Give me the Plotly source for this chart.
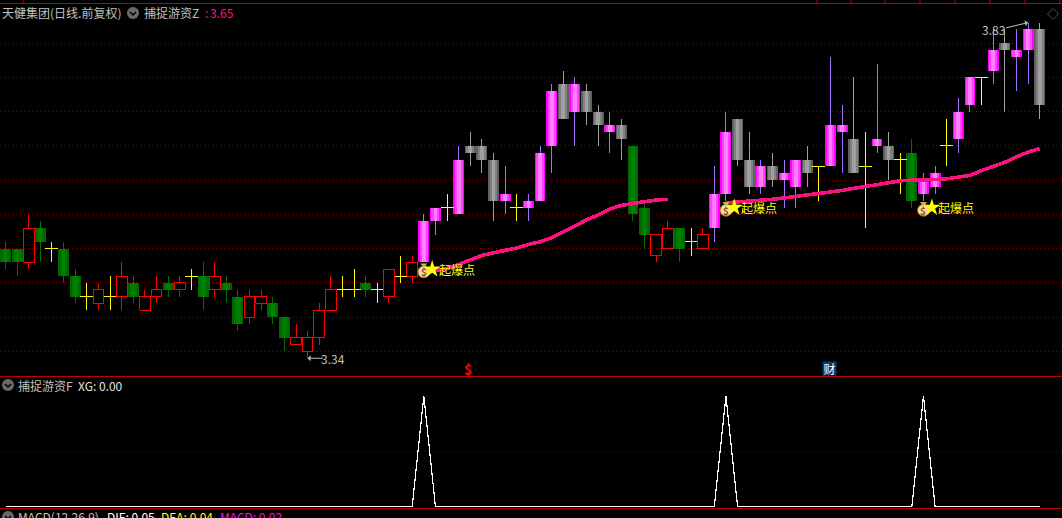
import plotly.graph_objects as go

W, H = 1062, 518

# ---------- data ----------
opens = [3.50,3.50,3.48,3.53,3.50,3.50,3.46,3.43,3.42,3.43,3.43,3.45,3.41,3.43,3.45,3.44,3.46,3.46,3.44,3.45,
         3.43,3.40,3.42,3.42,3.40,3.36,3.35,3.37,3.41,3.44,3.44,3.45,3.44,3.43,3.46,3.46,3.48,3.54,3.56,3.55,
         3.65,3.65,3.63,3.57,3.56,3.56,3.57,3.65,3.74,3.70,3.73,3.70,3.67,3.68,3.65,3.56,3.49,3.50,3.53,3.51,
         3.50,3.53,3.58,3.69,3.63,3.59,3.62,3.60,3.59,3.63,3.62,3.62,3.67,3.66,3.62,3.65,3.65,3.63,3.64,3.58,
         3.59,3.65,3.66,3.71,3.75,3.76,3.80,3.78,3.79,3.82]
closes = [3.48,3.48,3.53,3.51,3.50,3.46,3.43,3.43,3.44,3.43,3.46,3.43,3.43,3.44,3.44,3.45,3.46,3.43,3.46,3.44,
          3.39,3.43,3.43,3.40,3.37,3.37,3.37,3.41,3.44,3.44,3.44,3.44,3.44,3.47,3.46,3.48,3.54,3.56,3.56,3.63,
          3.64,3.63,3.57,3.58,3.56,3.57,3.64,3.73,3.69,3.74,3.70,3.68,3.68,3.66,3.55,3.52,3.52,3.53,3.50,3.51,
          3.52,3.58,3.67,3.63,3.59,3.62,3.60,3.61,3.63,3.61,3.62,3.68,3.68,3.61,3.62,3.66,3.63,3.63,3.57,3.60,
          3.61,3.65,3.70,3.75,3.75,3.79,3.79,3.79,3.82,3.71]
highs = [3.51,3.50,3.55,3.54,3.51,3.51,3.47,3.45,3.45,3.46,3.48,3.46,3.44,3.46,3.46,3.46,3.47,3.48,3.48,3.46,
         3.44,3.44,3.44,3.43,3.40,3.39,3.38,3.42,3.46,3.46,3.47,3.46,3.45,3.47,3.49,3.49,3.55,3.56,3.58,3.65,
         3.67,3.66,3.64,3.62,3.58,3.58,3.65,3.74,3.76,3.75,3.74,3.71,3.70,3.69,3.65,3.57,3.52,3.54,3.53,3.53,
         3.53,3.62,3.70,3.69,3.67,3.63,3.64,3.63,3.63,3.65,3.62,3.78,3.71,3.75,3.67,3.77,3.67,3.64,3.66,3.61,
         3.62,3.69,3.72,3.75,3.75,3.82,3.82,3.82,3.83,3.83]
lows = [3.47,3.46,3.47,3.48,3.48,3.45,3.42,3.41,3.41,3.41,3.41,3.42,3.41,3.42,3.43,3.43,3.44,3.41,3.43,3.42,
        3.38,3.39,3.41,3.39,3.35,3.36,3.34,3.36,3.41,3.43,3.43,3.43,3.42,3.42,3.45,3.45,3.48,3.52,3.54,3.55,
        3.62,3.61,3.54,3.55,3.54,3.54,3.57,3.61,3.69,3.65,3.68,3.65,3.64,3.63,3.54,3.50,3.48,3.50,3.48,3.49,
        3.50,3.51,3.57,3.62,3.58,3.58,3.59,3.56,3.56,3.59,3.57,3.62,3.61,3.61,3.53,3.64,3.60,3.58,3.56,3.57,
        3.58,3.62,3.64,3.70,3.71,3.74,3.70,3.73,3.74,3.69]
hot_candles = list(range(36, 54)) + list(range(61, 78)) + list(range(79, 90))

z_days_a = list(range(37, 58))
z_values_a = [3.468,3.471,3.477,3.483,3.490,3.494,3.497,3.501,3.506,3.510,3.516,3.524,3.533,3.542,3.549,3.558,
              3.563,3.566,3.569,3.571,3.572]
z_days_b = list(range(62, 90))
z_values_b = [3.567,3.568,3.569,3.571,3.572,3.574,3.576,3.578,3.580,3.583,3.585,3.588,3.591,3.594,3.597,3.599,
              3.600,3.600,3.601,3.602,3.604,3.607,3.614,3.620,3.626,3.634,3.641,3.646]
signal_days = [36, 62, 79]
signal_prices = [3.47, 3.56, 3.56]
signal_label = "起爆点"
xg_values = [1 if i in signal_days else 0 for i in range(90)]

price_ticks = [3.35,3.40,3.45,3.50,3.55,3.60,3.65,3.70,3.75,3.80]
xg_ticks = [0.5]
top_tick_px = [23, 817, 851, 885, 920, 955, 990, 1025, 1060]

# ---------- style ----------
RED, GRID = "#c00000", "#880000"
TXT = "#c0c0c0"
FONT = "Noto Sans CJK SC, Liberation Sans, sans-serif"
PINK = "#ff1080"

days = list(range(len(opens)))
hot = set(hot_candles)
doji = [i for i in days if opens[i] == closes[i]]
up_n = [i for i in days if closes[i] > opens[i] and i not in hot]
dn_n = [i for i in days if closes[i] < opens[i] and i not in hot]
up_h = [i for i in days if closes[i] > opens[i] and i in hot]
dn_h = [i for i in days if closes[i] < opens[i] and i in hot]


def line_trace(xs, ys, color, width=1.0):
    return go.Scatter(x=xs, y=ys, mode="lines", line=dict(color=color, width=width), hoverinfo="skip", showlegend=False)


def wick_trace(idx, color):
    xs, ys = [], []
    for i in idx:
        top, bot = max(opens[i], closes[i]), min(opens[i], closes[i])
        if highs[i] > top:
            xs += [i, i, None]
            ys += [top, highs[i], None]
        if lows[i] < bot:
            xs += [i, i, None]
            ys += [lows[i], bot, None]
    return line_trace(xs, ys, color)


def body(idx, color, width):
    return go.Bar(x=idx, y=[abs(closes[i] - opens[i]) for i in idx],
                  base=[min(closes[i], opens[i]) for i in idx], width=width,
                  marker=dict(color=color, line=dict(width=0)),
                  hoverinfo="skip", showlegend=False)


fig = go.Figure()
for col, w in (("#006400", 0.94), ("#007400", 0.62), ("#008000", 0.32)):
    fig.add_trace(body(dn_n, col, w))
for col, w in (("#ff00ff", 0.94), ("#ff40ff", 0.68), ("#ff80ff", 0.32)):
    fig.add_trace(body(up_h, col, w))
for col, w in (("#606060", 0.94), ("#808080", 0.68), ("#a0a0a0", 0.32)):
    fig.add_trace(body(dn_h, col, w))

fig.add_trace(wick_trace(up_n, "#ff0000"))
fig.add_trace(wick_trace(dn_n, "#007000"))
fig.add_trace(wick_trace(up_h, "#a070ff"))
fig.add_trace(wick_trace(dn_h, "#a0a0a0"))

# doji: full vertical plus horizontal stroke
xs, ys = [], []
for i in doji:
    xs += [i, i, None, i - 0.56, i + 0.56, None]
    ys += [lows[i], highs[i], None, closes[i], closes[i], None]
fig.add_trace(line_trace(xs, ys, "#ffff00"))

# hollow red bodies
xs, ys = [], []
for i in up_n:
    xs += [i - 0.46, i + 0.46, i + 0.46, i - 0.46, i - 0.46, None]
    ys += [opens[i], opens[i], closes[i], closes[i], opens[i], None]
fig.add_trace(line_trace(xs, ys, "#ff0000"))

for dx, dy in ((z_days_a, z_values_a), (z_days_b, z_values_b)):
    fig.add_trace(line_trace(dx, dy, PINK, 3.6))

# signal markers: bag, knot, star
fig.add_trace(go.Scatter(x=signal_days, y=[p - 0.004 for p in signal_prices], mode="markers",
                         marker=dict(symbol="circle", size=12, color="#f6dca0", line=dict(color="#8a5a20", width=1)),
                         hoverinfo="skip", showlegend=False))
fig.add_trace(go.Scatter(x=signal_days, y=[p + 0.006 for p in signal_prices], mode="markers",
                         marker=dict(symbol="triangle-down", size=6, color="#d8a860", line=dict(width=0)),
                         hoverinfo="skip", showlegend=False))
fig.add_trace(go.Scatter(x=[d + 0.72 for d in signal_days], y=signal_prices, mode="markers",
                         marker=dict(symbol="star", size=13, color="#ffff00", line=dict(width=0)),
                         hoverinfo="skip", showlegend=False))

# lower panel
fig.add_trace(go.Scatter(x=days, y=xg_values, yaxis="y2", mode="lines", line=dict(color="#ffffff", width=1.2),
                         hoverinfo="skip", showlegend=False))


def px(x):
    return x / W


def py(y):
    return 1 - y / H


def label(x, y, text, color=TXT, size=12):
    return dict(x=px(x - 2), y=py(y), xref="paper", yref="paper", text=text, showarrow=False, xanchor="left",
                yanchor="middle", font=dict(family=FONT, size=size, color=color))


ann = [
    label(2, 13, "天健集团(日线.前复权)"),
    label(144, 13, "捕捉游资Z"),
    label(205, 13, ":", PINK),
    label(210, 13, "3.65", PINK),
    label(18, 385, "捕捉游资F"),
    label(78, 385, "XG: 0.00", "#e0e0e0"),
    label(18, 516, "MACD(12,26,9)"),
    label(107, 516, "DIF: 0.05", "#ffffff"),
    label(161, 516, "DEA: 0.04", "#ffff00"),
    label(220, 516, "MACD: 0.02", "#ff00ff"),
    label(321, 358, "3.34"),
    label(982, 30, "3.83"),
    label(464, 369, "<b>$</b>", "#ff0000", 14),
    dict(x=px(829.5), y=py(368.5), xref="paper", yref="paper", xanchor="center", yanchor="middle", text="财",
         showarrow=False, font=dict(family=FONT, size=12, color="#ffffff"), bgcolor="#0a3c6e", borderpad=0,
         width=13, height=13),
    dict(x=26, y=3.34, xref="x", yref="y", ax=18, ay=0, text=" ", showarrow=True, arrowhead=1, arrowwidth=1, arrowcolor=TXT),
    dict(x=88, y=3.83, xref="x", yref="y", ax=-25, ay=6, text=" ", showarrow=True, arrowhead=1, arrowwidth=1, arrowcolor=TXT),
]
for d, p in zip(signal_days, signal_prices):
    ann.append(dict(x=d, y=p - 0.004, xref="x", yref="y", text="<b>$</b>", showarrow=False,
                    font=dict(family=FONT, size=10, color="#a05010")))
    ann.append(dict(x=d, y=p, xref="x", yref="y", xshift=13, text=signal_label, showarrow=False, xanchor="left",
                    font=dict(family=FONT, size=12, color="#ffff00")))

shapes = [
    dict(type="line", xref="paper", yref="paper", x0=0, x1=1, y0=py(3.5), y1=py(3.5), line=dict(color=RED, width=1)),
    dict(type="line", xref="paper", yref="paper", x0=0, x1=1, y0=py(376.5), y1=py(376.5), line=dict(color=RED, width=1)),
    dict(type="line", xref="paper", yref="paper", x0=0, x1=1, y0=py(508.5), y1=py(508.5), line=dict(color=RED, width=1)),
    dict(type="path", xref="paper", yref="paper", line=dict(color="#505050", width=1),
         path=f"M{px(1053)},{py(8.5)} L{px(1058.5)},{py(14)} L{px(1053)},{py(19.5)} L{px(1047.5)},{py(14)} Z"),
]
for t in top_tick_px:
    shapes.append(dict(type="line", xref="paper", yref="paper", x0=px(t), x1=px(t), y0=py(0), y1=py(3.5),
                       line=dict(color=RED, width=1)))
for cx, cy in ((133, 13), (8, 385), (8, 517)):
    shapes.append(dict(type="circle", xref="paper", yref="paper", x0=px(cx - 6), x1=px(cx + 6), y0=py(cy + 6), y1=py(cy - 6),
                       fillcolor="#6a6a6a", line=dict(width=0)))
    shapes.append(dict(type="path", xref="paper", yref="paper", line=dict(color="#000000", width=1.5),
                       path=f"M{px(cx-3)},{py(cy-1)} L{px(cx)},{py(cy+2)} L{px(cx+3)},{py(cy-1)}"))

STEP, X0 = 11.62, 5.5
Y351, PXP = 351.4, 685.0
fig.update_layout(
    width=W, height=H, margin=dict(l=0, r=0, t=0, b=0),
    paper_bgcolor="#000000", plot_bgcolor="#000000", barmode="overlay", showlegend=False,
    bargap=0, annotations=ann, shapes=shapes,
    xaxis=dict(range=[-X0 / STEP, (W - X0) / STEP], visible=False, fixedrange=True),
    yaxis=dict(range=[3.35 - (H - Y351) / PXP, 3.35 + Y351 / PXP], tickmode="array", tickvals=price_ticks,
               showticklabels=False, ticks="", zeroline=False, showgrid=True, gridcolor=GRID, griddash="1px,3px", gridwidth=1,
               fixedrange=True),
    yaxis2=dict(range=[-(H - 506.5) / 110.5, 506.5 / 110.5], overlaying="y", tickmode="array", tickvals=xg_ticks,
                showticklabels=False, ticks="", zeroline=False, showgrid=True, gridcolor="#780000", griddash="1px,3px",
                gridwidth=1, fixedrange=True),
)

post = """
document.body.style.margin='0';document.body.style.background='#000';document.body.style.overflow='hidden';
var s=document.createElement('style');s.textContent='.scatterlayer .js-line{shape-rendering:crispEdges}';document.head.appendChild(s);
"""
fig.write_html("out.html", post_script=post, config={"displayModeBar": False})
